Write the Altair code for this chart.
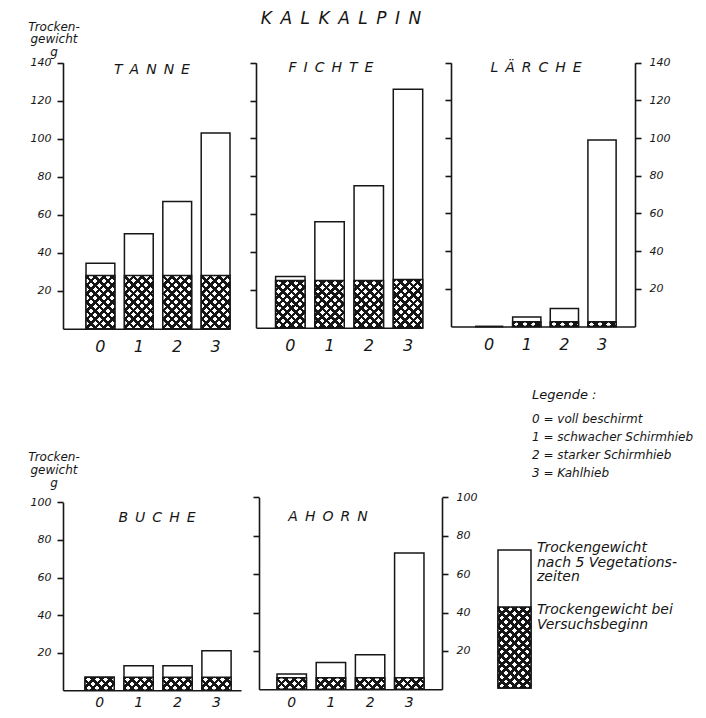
import altair as alt
import pandas as pd

# ---------------- data ----------------
categories = ["0", "1", "2", "3"]

tanne_total = [34.5, 50, 67, 103]
tanne_start = [28, 28, 28, 28]
fichte_total = [27, 56, 75, 126]
fichte_start = [25, 25, 25, 25.5]
laerche_total = [0, 5, 9.5, 99]
laerche_start = [0, 2.5, 2.5, 2.5]
buche_total = [7, 13, 13, 21]
buche_start = [7, 7, 7, 7]
ahorn_total = [8, 14, 18, 71]
ahorn_start = [6, 6, 6, 6]

top_ticks = [20, 40, 60, 80, 100, 120, 140]
bottom_ticks = [20, 40, 60, 80, 100]

legend_codes = ["0 = voll beschirmt", "1 = schwacher Schirmhieb",
                "2 = starker Schirmhieb", "3 = Kahlhieb"]
legend_box_cat = ["L"]
legend_box_total = [1.0]
legend_box_start = [0.587]

# ---------------- style ----------------
W, H = 690, 702
INK = "#161616"
FONT = "DejaVu Sans"
CLEAR = "rgba(255,255,255,0)"
SP = "\u2002"


def hatch(w, h, direction, bg, period=8.5, duty=0.42):
    total = w + h
    p = period / total
    stops = []
    k = 0
    while k * p < 1:
        o0 = k * p
        o1 = min(1.0, o0 + duty * p)
        o2 = min(1.0, o0 + p)
        stops += [alt.GradientStop(offset=o0, color=INK),
                  alt.GradientStop(offset=o1, color=INK),
                  alt.GradientStop(offset=o1, color=bg),
                  alt.GradientStop(offset=o2, color=bg)]
        k += 1
    s = (w * w + h * h) / total
    a, b = w / s, h / s
    if direction == "/":
        x1, y1, x2, y2 = 0, 0, a, b
    else:
        x1, y1, x2, y2 = 0, 1, a, 1 - b
    return alt.LinearGradient(gradient="linear", stops=stops,
                              x1=x1, y1=y1, x2=x2, y2=y2)


def bandwidth(xr, n, pi, po):
    step = (xr[1] - xr[0]) / (n - pi + 2 * po)
    return step * (1 - pi)


def text(t, x, y, size, align="center", lh=None):
    kw = dict(text=t, font=FONT, fontStyle="italic", fontSize=size, color=INK,
              align=align, baseline="middle")
    if lh is not None:
        kw["lineHeight"] = lh
    return alt.Chart(alt.Data(values=[{"k": 1}])).mark_text(**kw).encode(
        x=alt.value(x), y=alt.value(y))


def panel(cats, totals, starts, xr, po, al, yr, ymax, ticks,
          left_labels, right_labels, pi=0.25, xlabels=True,
          xlab_pad=18, xlab_size=16):
    df = pd.DataFrame({"Behandlung": cats, "Endgewicht": totals,
                       "Anfangsgewicht": starts})
    xs = alt.Scale(domain=cats, range=list(xr), paddingInner=pi,
                   paddingOuter=po, align=al)
    ys = alt.Scale(domain=[0, ymax], range=list(yr), nice=False, zero=True)
    hval = max(starts) * (yr[0] - yr[1]) / ymax
    bw = bandwidth(xr, len(cats), pi, po)

    if xlabels:
        x_axis = alt.Axis(orient="bottom", offset=yr[0] - H, ticks=False, tickSize=0,
                          labelPadding=xlab_pad, labelBaseline="middle", labelAngle=0,
                          labelFont=FONT, labelFontStyle="italic",
                          labelFontSize=xlab_size,
                          labelColor=INK, domainColor=INK, domainWidth=1.6,
                          grid=False, title=None)
    else:
        x_axis = None
    if ticks is not None:
        y_left = alt.Axis(orient="left", offset=-xr[0], values=ticks, tickSize=6,
                          tickWidth=1.6, tickColor=INK, domainColor=INK,
                          domainWidth=1.6, labels=left_labels, labelPadding=6,
                          labelFont=FONT, labelFontStyle="italic", labelFontSize=11,
                          labelColor=INK, grid=False, title=None)
    else:
        y_left = None
    if right_labels:
        y_right = alt.Axis(orient="right", offset=xr[1] - W, values=ticks, tickSize=6,
                           tickWidth=1.6, tickColor=INK, domainColor=INK,
                           domainWidth=1.6, labels=True, labelPadding=8,
                           labelFont=FONT, labelFontStyle="italic", labelFontSize=11,
                           labelColor=INK, grid=False, title=None)
    else:
        y_right = None

    base = alt.Chart(df)
    total = base.mark_bar(fill="white", stroke=INK, strokeWidth=1.5).encode(
        x=alt.X("Behandlung:N", scale=xs, axis=x_axis, sort=cats),
        y=alt.Y("Endgewicht:Q", scale=ys, axis=y_left))
    ha = base.mark_bar(fill=hatch(bw, hval, "/", "white"), strokeWidth=0).encode(
        x=alt.X("Behandlung:N", scale=xs, axis=None, sort=cats),
        y=alt.Y("Anfangsgewicht:Q", scale=ys, axis=y_right))
    hb = base.mark_bar(fill=hatch(bw, hval, "\\", CLEAR), stroke=INK,
                       strokeWidth=1.5).encode(
        x=alt.X("Behandlung:N", scale=xs, axis=None, sort=cats),
        y=alt.Y("Anfangsgewicht:Q", scale=ys, axis=None))
    return [total, ha, hb]


layers = []
layers += panel(categories, tanne_total, tanne_start, (55, 222), 0.30, 1.0,
                (320.7, 54.7), 140, top_ticks, True, False)
layers += panel(categories, fichte_total, fichte_start, (248, 414.7), 0.25, 1.0,
                (319.7, 54.7), 140, top_ticks, False, False)
layers += panel(categories, laerche_total, laerche_start, (443, 627), 0.57, 0.56,
                (318.5, 54.7), 140, top_ticks, False, True)
layers += panel(categories, buche_total, buche_start, (55, 233), 0.41, 0.69,
                (682.3, 494.3), 100, bottom_ticks, True, False,
                xlab_pad=12, xlab_size=14)
layers += panel(categories, ahorn_total, ahorn_start, (251, 434), 0.46, 0.5,
                (681.3, 489.3), 100, bottom_ticks, False, True,
                xlab_pad=13, xlab_size=14)
# legend swatch
layers += panel(legend_box_cat, legend_box_total, legend_box_start, (490, 523), 0.0, 0.5,
                (680, 542), 1.0, None, False, False, pi=0.0, xlabels=False)

# texts (multi-line texts: y is the first line's centre)
layers.append(text(SP.join("KALKALPIN"), 333, 10.5, 17))
layers.append(text(SP.join("TANNE"), 144, 62, 14))
layers.append(text(SP.join("FICHTE"), 323, 60, 14))
layers.append(text(SP.join("LÄRCHE"), 528, 60, 14))
layers.append(text(SP.join("BUCHE"), 149, 510, 14))
layers.append(text(SP.join("AHORN"), 320, 509, 14))
layers.append(text(["Trocken-", "gewicht", "g"], 46, 18.5, 12, lh=12.5))
layers.append(text(["Trocken-", "gewicht", "g"], 46, 449, 12, lh=13))
layers.append(text("Legende :", 524, 387, 13, align="left"))
layers.append(text(legend_codes, 524, 411, 12, align="left", lh=18))
layers.append(text(["Trockengewicht", "nach 5 Vegetations-", "zeiten"], 529, 540, 14,
                   align="left", lh=14.5))
layers.append(text(["Trockengewicht bei", "Versuchsbeginn"], 529, 602, 14,
                   align="left", lh=15))

chart = alt.layer(*layers).resolve_scale(
    x="independent", y="independent"
).resolve_axis(
    x="independent", y="independent"
).properties(
    width=W, height=H, padding=0, background="white",
    autosize=alt.AutoSizeParams(type="none")
).configure_view(stroke=None)

chart.save("out.html", embed_options={"renderer": "svg", "actions": False})
